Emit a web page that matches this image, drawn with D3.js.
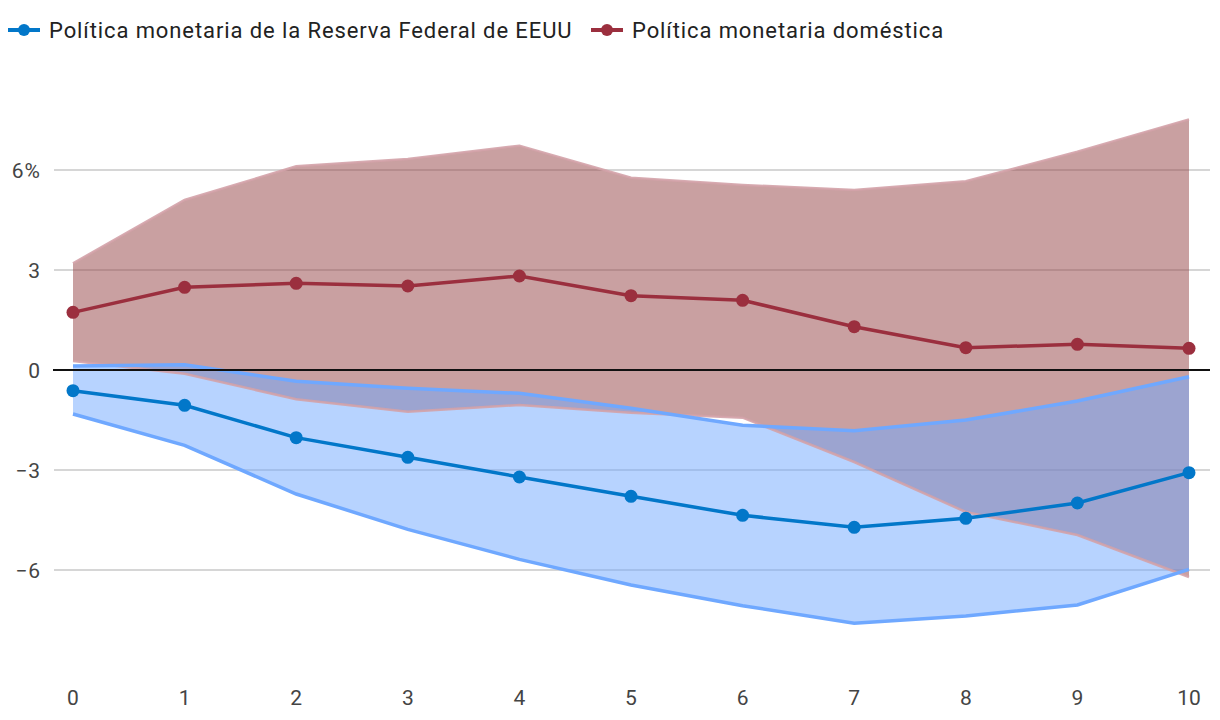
<!DOCTYPE html>
<html>
<head>
<meta charset="utf-8">
<script src="https://d3js.org/d3.v7.min.js"></script>
<style>
  body { margin: 0; background: #fff; }
  text { font-family: Roboto, "Noto Sans", sans-serif; }
</style>
</head>
<body>
<div id="chart"></div>
<script>
// periods after the shock
const periods = [0, 1, 2, 3, 4, 5, 6, 7, 8, 9, 10];

// Fed monetary policy response (blue)
const fedMid   = [-0.62, -1.06, -2.03, -2.62, -3.21, -3.79, -4.36, -4.72, -4.45, -3.99, -3.08];
const fedUpper = [0.12, 0.16, -0.34, -0.55, -0.70, -1.15, -1.66, -1.82, -1.50, -0.93, -0.20];
const fedLower = [-1.32, -2.26, -3.72, -4.78, -5.68, -6.45, -7.07, -7.60, -7.38, -7.05, -5.98];

// domestic monetary policy response (red)
const domMid   = [1.73, 2.48, 2.60, 2.52, 2.82, 2.23, 2.09, 1.30, 0.67, 0.77, 0.65];
const domUpper = [3.20, 5.10, 6.11, 6.33, 6.73, 5.77, 5.55, 5.40, 5.66, 6.55, 7.52];
const domLower = [0.27, -0.11, -0.88, -1.25, -1.05, -1.28, -1.43, -2.76, -4.26, -4.95, -6.21];

const yTicks = [-6, -3, 0, 3, 6];
const yTickLabels = ["\u22126", "\u22123", "0", "3", "6%"];
const seriesNames = ["Política monetaria de la Reserva Federal de EEUU", "Política monetaria doméstica"];

const W = 1220, H = 720;
const blue = "#0277c9", blueBand = "#6fa8ff";
const red = "#9b2f3e", redBand = "#934143";

const svg = d3.select("#chart").append("svg")
    .attr("width", W).attr("height", H);

const x = d3.scaleLinear().domain([0, 10]).range([73, 1189]);
const y = d3.scaleLinear().domain([-9, 9]).range([670, 70]);

// gridlines
svg.append("g")
  .selectAll("line")
  .data(yTicks.filter(d => d !== 0))
  .join("line")
    .attr("x1", 54).attr("x2", 1210)
    .attr("y1", d => y(d)).attr("y2", d => y(d))
    .attr("stroke", "#d6d6d6").attr("stroke-width", 2);

// y labels
svg.append("g")
  .selectAll("text")
  .data(yTicks)
  .join("text")
    .attr("x", 41).attr("y", d => y(d))
    .attr("dy", "0.36em")
    .attr("text-anchor", "end")
    .attr("font-size", 21)
    .attr("letter-spacing", 1)
    .attr("fill", "#444")
    .text((d, i) => yTickLabels[i]);

// x labels
svg.append("g")
  .selectAll("text")
  .data(periods)
  .join("text")
    .attr("x", d => x(d)).attr("y", 697)
    .attr("dy", "0.36em")
    .attr("text-anchor", "middle")
    .attr("font-size", 21)
    .attr("fill", "#444")
    .text(d => d);

const band = (lo, hi) => d3.area()
    .x((d, i) => x(periods[i]))
    .y0((d, i) => y(lo[i]))
    .y1((d, i) => y(hi[i]));
const line = vals => d3.line()
    .x((d, i) => x(periods[i]))
    .y((d, i) => y(vals[i]));

// bands: domestic first, fed on top
svg.append("path")
    .attr("d", band(domLower, domUpper)(periods))
    .attr("fill", redBand).attr("fill-opacity", 0.5);
svg.append("path")
    .attr("d", band(fedLower, fedUpper)(periods))
    .attr("fill", blueBand).attr("fill-opacity", 0.5);

// band edges
[domUpper, domLower].forEach(v => {
  svg.append("path")
    .attr("d", line(v)(periods))
    .attr("fill", "none")
    .attr("stroke", "#d3a2a8").attr("stroke-width", 2.5)
    .attr("stroke-opacity", 0.9);
});
[fedUpper, fedLower].forEach(v => {
  svg.append("path")
    .attr("d", line(v)(periods))
    .attr("fill", "none")
    .attr("stroke", blueBand).attr("stroke-width", 3.5);
});

// zero line
svg.append("line")
    .attr("x1", 53).attr("x2", 1210)
    .attr("y1", y(0)).attr("y2", y(0))
    .attr("stroke", "#111").attr("stroke-width", 2);

// main series
[[fedMid, blue], [domMid, red]].forEach(([vals, col]) => {
  svg.append("path")
    .attr("d", line(vals)(periods))
    .attr("fill", "none")
    .attr("stroke", col).attr("stroke-width", 3.5);
  svg.append("g")
    .selectAll("circle")
    .data(periods)
    .join("circle")
      .attr("cx", d => x(d))
      .attr("cy", (d, i) => y(vals[i]))
      .attr("r", 6.5)
      .attr("fill", col);
});

// legend
const legend = svg.append("g");
const legendItems = [
  { name: seriesNames[0], color: blue, x0: 8 },
  { name: seriesNames[1], color: red, x0: 591 }
];
legendItems.forEach(it => {
  const g = legend.append("g").attr("transform", `translate(${it.x0},30)`);
  g.append("line").attr("x1", 0).attr("x2", 32)
    .attr("stroke", it.color).attr("stroke-width", 4);
  g.append("circle").attr("cx", 16).attr("r", 6).attr("fill", it.color);
  g.append("text").attr("x", 41).attr("dy", "0.36em")
    .attr("font-size", 22).attr("letter-spacing", 0.9)
    .attr("fill", "#222")
    .text(it.name);
});
</script>
</body>
</html>
